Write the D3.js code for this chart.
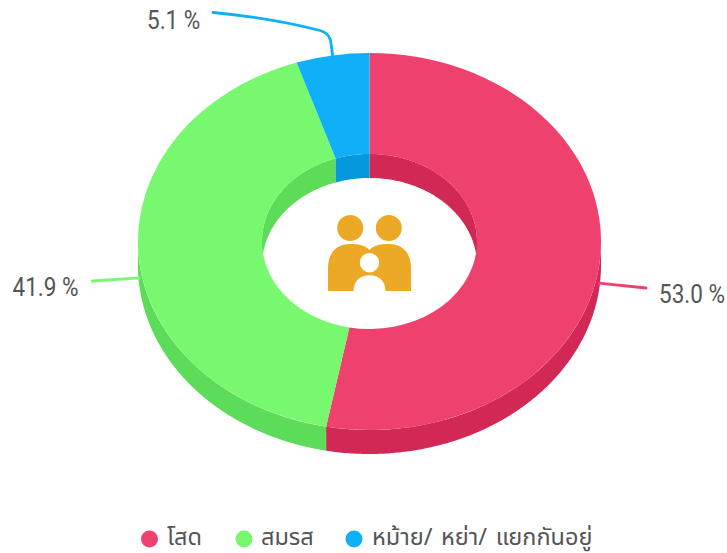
<!DOCTYPE html>
<html><head><meta charset="utf-8">
<script src="https://cdn.jsdelivr.net/npm/d3@7"></script>
<style>html,body{margin:0;background:#fff}svg{display:block}</style></head>
<body><svg id="c" width="727" height="553"></svg>
<script>
const categories = ["โสด", "สมรส", "หม้าย/ หย่า/ แยกกันอยู่"];
const values = [53.0, 41.9, 5.1];
const topColors = ["#ef416e", "#78f86e", "#10b0f8"];
const sideColors = ["#d22855", "#5cdc58", "#0698dc"];
const labelTexts = ["53.0 %", "41.9 %", "5.1 %"];

const cx = 369.5, cy = 241.5, rx = 231.5, ry = 188.5, rxIn = 107.5, depth = 24;
const squash = ry / rx;
const svg = d3.select("#c");
const pie = d3.pie().sort(null).value(d => d)(values);
const arc = d3.arc().innerRadius(rxIn).outerRadius(rx);
const pt = (r, a, dy = 0) => [cx + r * Math.sin(a), cy - r * squash * Math.cos(a) + dy];
const line = d3.line();

function wall(r, a0, a1) {
  const n = Math.max(2, Math.ceil((a1 - a0) / 0.01));
  const as = d3.range(n + 1).map(i => a0 + (a1 - a0) * i / n);
  return line(as.map(a => pt(r, a)).concat(as.slice().reverse().map(a => pt(r, a, depth)))) + "Z";
}
// outer wall: lower half of the ring
pie.forEach((d, i) => {
  const a0 = Math.max(d.startAngle, Math.PI / 2), a1 = Math.min(d.endAngle, 3 * Math.PI / 2);
  if (a1 > a0) svg.append("path").attr("d", wall(rx, a0, a1)).attr("fill", sideColors[i]);
});
// inner wall: upper half of the hole
pie.forEach((d, i) => {
  [[d.startAngle, Math.min(d.endAngle, Math.PI / 2)],
   [Math.max(d.startAngle, 3 * Math.PI / 2), d.endAngle]].forEach(([a0, a1]) => {
    if (a1 > a0) svg.append("path").attr("d", wall(rxIn, a0, a1)).attr("fill", sideColors[i]);
  });
});
// top surface
svg.append("g").attr("transform", `translate(${cx},${cy}) scale(1,${squash})`)
  .selectAll("path").data(pie).join("path")
  .attr("d", arc).attr("fill", (d, i) => topColors[i]);

// leader lines and labels
const labelLayout = [
  {dy: depth, end: [646, 288], tx: 659, ty: 303, curve: null},
  {dy: depth, end: [92, 281], tx: 12.5, ty: 296, curve: null},
  {dy: 0, end: [213, 12.5], tx: 147, ty: 29, curve: [[330.5, 40], [327, 33.5]]}
];
pie.forEach((d, i) => {
  const m = (d.startAngle + d.endAngle) / 2, L = labelLayout[i];
  const s = pt(rx - 1, m, L.dy);
  const p = d3.path();
  p.moveTo(s[0], s[1]);
  if (L.curve) {
    p.lineTo(L.curve[0][0], L.curve[0][1]);
    p.quadraticCurveTo(L.curve[1][0] + 1, L.curve[1][1] - 1, 320, 30.5);
    p.quadraticCurveTo(272, 18, L.end[0], L.end[1]);
  } else p.lineTo(L.end[0], L.end[1]);
  svg.append("path").attr("d", p.toString()).attr("fill", "none")
    .attr("stroke", topColors[i]).attr("stroke-width", 2.8).attr("stroke-linecap", "round");
  svg.append("text").attr("transform", `translate(${L.tx},${L.ty}) scale(0.9,1)`).text(labelTexts[i])
    .attr("font-family", "Roboto").attr("font-size", 25).attr("fill", "#555");
});

// centre icon
const icon = svg.append("g").attr("transform", "translate(369.5,0)").attr("fill", "#eca926");
icon.append("circle").attr("cx", -19.3).attr("cy", 228).attr("r", 13);
icon.append("circle").attr("cx", 19.3).attr("cy", 228).attr("r", 13);
icon.append("path").attr("d", "M-41.5 291V268C-41.5 252 -32 244 -20 244C-10 244 -5 245 0 250C5 245 10 244 20 244C32 244 41.5 252 41.5 268V291Z");
icon.append("circle").attr("cx", 0).attr("cy", 262.7).attr("r", 9.7).attr("fill", "#fff");
icon.append("path").attr("d", "M-16 291C-16 281 -9 275.3 0 275.3C9 275.3 16 281 16 291Z").attr("fill", "#fff");

// legend
const legendX = [149.5, 244, 354];
const legendTextX = [167, 261, 372];
categories.forEach((c, i) => {
  svg.append("circle").attr("cx", legendX[i]).attr("cy", 539).attr("r", 8.5).attr("fill", topColors[i]);
  svg.append("text").attr("x", legendTextX[i]).attr("y", 545).text(c)
    .attr("font-family", "'Noto Sans Thai','Noto Sans',Roboto,sans-serif").attr("font-size", 23.5)
    .attr("word-spacing", 2.5).attr("fill", "#555");
});
</script></body></html>
